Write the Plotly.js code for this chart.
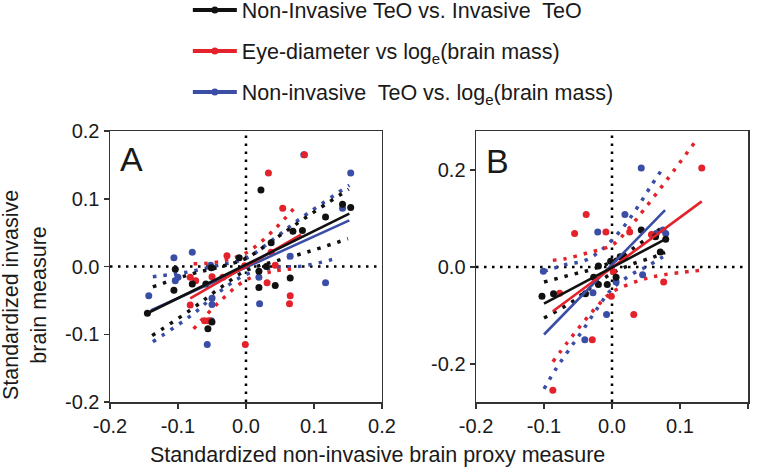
<!DOCTYPE html>
<html>
<head>
<meta charset="utf-8">
<script src="https://cdn.plot.ly/plotly-3.0.1.min.js"></script>
<style>
html, body { margin: 0; padding: 0; background: #fff; }
#myPlot { width: 761px; height: 475px; }
</style>
</head>
<body>
<div id="myPlot"></div>
<script>
// ---- tick labels ----
var tickVals = [-0.2, -0.1, 0, 0.1, 0.2];
var tickText = ["-0.2", "-0.1", "0.0", "0.1", "0.2"];
var bYTickVals = [-0.2, 0, 0.2];
var bYTickText = ["-0.2", "0.0", "0.2"];

var seriesNames = [
    "Non-Invasive TeO vs. Invasive  TeO",
    "Eye-diameter vs log<sub>e</sub>(brain mass)",
    "Non-invasive  TeO vs. log<sub>e</sub>(brain mass)"
];

// ---- panel A points ----
var aBlackX = [0.022, 0.142, 0.154, 0.117, 0.069, 0.083, 0.037, 0.019, 0.019, 0.043, 0.065, -0.104, -0.079, -0.106, -0.059, -0.051, -0.056, -0.050, -0.145, -0.010, 0.030];
var aBlackY = [0.113, 0.092, 0.087, 0.073, 0.052, 0.053, 0.035, -0.007, -0.031, -0.028, -0.017, -0.004, -0.026, -0.035, -0.026, -0.002, -0.092, -0.082, -0.069, 0.013, 0.000];
var aRedX = [0.086, 0.033, 0.054, 0.065, 0.064, -0.001, 0.031, 0.043, 0.037, -0.002, -0.028, -0.034, -0.050, -0.082, -0.074, -0.082, -0.061, -0.055];
var aRedY = [0.165, 0.138, 0.086, -0.043, -0.055, -0.115, -0.024, 0.002, 0.021, 0.001, 0.016, -0.016, -0.015, -0.016, -0.021, -0.057, -0.080, -0.080];
var aBlueX = [0.085, 0.154, 0.142, 0.065, 0.117, 0.020, -0.057, -0.079, -0.106, -0.100, -0.104, -0.143, -0.052, -0.050, -0.050, -0.051, 0.019];
var aBlueY = [0.165, 0.138, 0.086, 0.015, -0.024, -0.055, -0.115, 0.021, 0.013, -0.016, -0.021, -0.043, 0.002, -0.047, -0.056, -0.080, -0.016];

// panel A fitted lines
var aBlackFitX = [-0.145, 0.152], aBlackFitY = [-0.069, 0.078];
var aRedFitX = [-0.082, 0.081], aRedFitY = [-0.047, 0.047];
var aBlueFitX = [-0.140, 0.152], aBlueFitY = [-0.065, 0.068];

// panel A dotted bands
var aBlackUpX = [-0.137, -0.08, -0.04, 0, 0.04, 0.089, 0.151], aBlackUpY = [-0.030, -0.011, -0.001, 0.012, 0.039, 0.073, 0.114];
var aBlackLoX = [-0.138, -0.08, -0.04, 0, 0.04, 0.089, 0.150], aBlackLoY = [-0.102, -0.063, -0.033, -0.006, 0.007, 0.021, 0.041];
var aRedUpX = [-0.077, -0.04, 0, 0.04, 0.075], aRedUpY = [0.004, 0.007, 0.020, 0.053, 0.091];
var aRedLoX = [-0.077, -0.04, 0, 0.04, 0.075], aRedLoY = [-0.092, -0.053, -0.020, -0.007, -0.003];
var aBlueUpX = [-0.137, -0.09, -0.04, 0, 0.04, 0.0775, 0.152], aBlueUpY = [-0.015, -0.009, 0.002, 0.012, 0.040, 0.069, 0.120];
var aBlueLoX = [-0.137, -0.079, -0.04, 0, 0.04, 0.085, 0.137], aBlueLoY = [-0.111, -0.071, -0.038, -0.012, -0.002, 0.001, 0.013];

// ---- panel B points ----
var bBlackX = [-0.103, -0.086, -0.039, -0.020, -0.007, -0.020, 0.012, 0.018, 0.006, 0.043, 0.064, 0.079, 0.071, -0.002, -0.027];
var bBlackY = [-0.060, -0.055, -0.055, 0.002, -0.036, -0.036, 0.021, 0.021, -0.021, 0.076, 0.062, 0.057, 0.031, 0.012, -0.021];
var bRedX = [-0.038, -0.055, -0.009, 0.132, 0.076, 0.032, -0.029, -0.087, -0.077, -0.001, 0.026, 0.002, 0.058];
var bRedY = [0.108, 0.069, 0.072, 0.204, -0.031, -0.098, -0.150, -0.254, -0.054, -0.060, 0.072, -0.010, 0.067];
var bBlueX = [0.043, 0.019, -0.021, 0.075, 0.079, 0.065, -0.008, -0.040, -0.028, 0.006, -0.101, 0.045];
var bBlueY = [0.204, 0.108, 0.072, 0.076, 0.069, 0.069, -0.098, -0.150, -0.053, -0.031, -0.009, -0.016];

// panel B fitted lines
var bBlackFitX = [-0.100, 0.078], bBlackFitY = [-0.0756, 0.057];
var bRedFitX = [-0.087, 0.132], bRedFitY = [-0.091, 0.135];
var bBlueFitX = [-0.100, 0.078], bBlueFitY = [-0.139, 0.117];

// panel B dotted bands
var bBlackUpX = [-0.100, -0.06, -0.03, 0, 0.03, 0.06, 0.078], bBlackUpY = [-0.031, -0.016, -0.005, 0.011, 0.037, 0.068, 0.085];
var bBlackLoX = [-0.100, -0.06, -0.03, 0, 0.03, 0.06, 0.078], bBlackLoY = [-0.105, -0.073, -0.041, -0.013, 0.006, 0.020, 0.030];
var bRedUpX = [-0.087, -0.069, -0.036, 0, 0.025, 0.048, 0.081, 0.124], bRedUpY = [0.014, 0.017, 0.029, 0.045, 0.080, 0.120, 0.180, 0.261];
var bRedLoX = [-0.087, -0.066, -0.044, -0.022, 0, 0.042, 0.076, 0.130], bRedLoY = [-0.195, -0.156, -0.117, -0.081, -0.052, -0.027, -0.016, -0.007];
var bBlueUpX = [-0.100, -0.07, -0.037, -0.009, 0.016, 0.037, 0.056, 0.076], bBlueUpY = [-0.009, 0.004, 0.015, 0.043, 0.081, 0.122, 0.164, 0.206];
var bBlueLoX = [-0.100, -0.083, -0.063, -0.042, -0.021, 0, 0.028, 0.050, 0.075], bBlueLoY = [-0.251, -0.211, -0.170, -0.128, -0.084, -0.045, -0.016, 0.000, 0.021];

var BLACK = "#111111", RED = "#e3222b", BLUE = "#3b4ea6";

function points(xs, ys, color, xa, ya) {
    return { x: xs, y: ys, xaxis: xa, yaxis: ya, mode: "markers", type: "scatter",
        marker: { color: color, size: 7 }, showlegend: false, hoverinfo: "skip" };
}

function fit(xs, ys, color, xa, ya) {
    return { x: xs, y: ys, xaxis: xa, yaxis: ya, mode: "lines", type: "scatter",
        line: { color: color, width: 2.6 }, showlegend: false, hoverinfo: "skip" };
}

function band(xs, ys, color, xa, ya) {
    return { x: xs, y: ys, xaxis: xa, yaxis: ya, mode: "lines", type: "scatter",
        line: { color: color, width: 3.5, dash: "3.5px,7px", shape: "spline" }, showlegend: false, hoverinfo: "skip" };
}

function legendEntry(name, color, group) {
    return { x: [null], y: [null], mode: "lines+markers", type: "scatter", name: name,
        legendgroup: group, line: { color: color, width: 4 }, marker: { color: color, size: 7 } };
}

function zeroLines(xr, yr) {
    var dl = { color: "#000", width: 2.5, dash: "2.5px,5.5px" };
    return [
        { type: "line", xref: xr, yref: yr + " domain", x0: 0, x1: 0, y0: 0, y1: 1, line: dl, layer: "below" },
        { type: "line", xref: xr + " domain", yref: yr, x0: 0, x1: 1, y0: 0, y1: 0, line: dl, layer: "below" }
    ];
}

function axisStyle(extra) {
    var base = {
        showgrid: false, zeroline: false, showline: true, mirror: true,
        linecolor: "#333", linewidth: 1.5, ticks: "outside", ticklen: 5,
        tickwidth: 1.5, tickcolor: "#333", tickfont: { size: 20 }, fixedrange: true,
        automargin: false
    };
    for (var k in extra) base[k] = extra[k];
    return base;
}

function draw_chart() {
    // Define Data
    var data = [
        band(aBlueUpX, aBlueUpY, BLUE, "x", "y"), band(aBlueLoX, aBlueLoY, BLUE, "x", "y"),
        band(aRedUpX, aRedUpY, RED, "x", "y"), band(aRedLoX, aRedLoY, RED, "x", "y"),
        band(aBlackUpX, aBlackUpY, BLACK, "x", "y"), band(aBlackLoX, aBlackLoY, BLACK, "x", "y"),
        points(aBlueX, aBlueY, BLUE, "x", "y"), points(aRedX, aRedY, RED, "x", "y"), points(aBlackX, aBlackY, BLACK, "x", "y"),
        fit(aBlueFitX, aBlueFitY, BLUE, "x", "y"), fit(aRedFitX, aRedFitY, RED, "x", "y"), fit(aBlackFitX, aBlackFitY, BLACK, "x", "y"),

        band(bBlueUpX, bBlueUpY, BLUE, "x2", "y2"), band(bBlueLoX, bBlueLoY, BLUE, "x2", "y2"),
        band(bRedUpX, bRedUpY, RED, "x2", "y2"), band(bRedLoX, bRedLoY, RED, "x2", "y2"),
        band(bBlackUpX, bBlackUpY, BLACK, "x2", "y2"), band(bBlackLoX, bBlackLoY, BLACK, "x2", "y2"),
        points(bBlueX, bBlueY, BLUE, "x2", "y2"), points(bRedX, bRedY, RED, "x2", "y2"), points(bBlackX, bBlackY, BLACK, "x2", "y2"),
        fit(bBlueFitX, bBlueFitY, BLUE, "x2", "y2"), fit(bRedFitX, bRedFitY, RED, "x2", "y2"), fit(bBlackFitX, bBlackFitY, BLACK, "x2", "y2"),

        legendEntry(seriesNames[0], BLACK, "g1"),
        legendEntry(seriesNames[1], RED, "g2"),
        legendEntry(seriesNames[2], BLUE, "g3")
    ];

    // Define Layout
    var layout = {
        width: 761, height: 475,
        margin: { l: 110, r: 13, t: 131, b: 73, autoexpand: false },
        paper_bgcolor: "#fff", plot_bgcolor: "#fff",
        font: { family: "Liberation Sans, Arial, sans-serif", color: "#1a1a1a" },
        showlegend: true,
        legend: {
            x: 0.122, y: 1.522, xanchor: "left", yanchor: "top",
            font: { size: 21.5 }, tracegroupgap: 10, traceorder: "grouped",
            itemwidth: 44, bgcolor: "rgba(0,0,0,0)"
        },
        xaxis: axisStyle({ domain: [0, 0.4263], range: [-0.2, 0.2], anchor: "y", tickvals: tickVals, ticktext: tickText }),
        yaxis: axisStyle({ domain: [0, 1], range: [-0.2, 0.2], anchor: "x", tickvals: tickVals, ticktext: tickText }),
        xaxis2: axisStyle({ domain: [0.5737, 1], range: [-0.2, 0.2], anchor: "y2", tickvals: tickVals, ticktext: tickText }),
        yaxis2: axisStyle({ domain: [0, 1], range: [-0.278, 0.28], anchor: "x2", tickvals: bYTickVals, ticktext: bYTickText }),
        shapes: zeroLines("x", "y").concat(zeroLines("x2", "y2")),
        annotations: [
            { text: "A", xref: "paper", yref: "paper", x: 0.033, y: 0.897, showarrow: false, font: { size: 34 }, xanchor: "center", yanchor: "middle" },
            { text: "B", xref: "paper", yref: "paper", x: 0.6066, y: 0.889, showarrow: false, font: { size: 34 }, xanchor: "center", yanchor: "middle" },
            { text: "Standardized non-invasive brain proxy measure", xref: "paper", yref: "paper", x: 0.42, y: -0.196,
              showarrow: false, font: { size: 21.5 }, xanchor: "center", yanchor: "middle" },
            { text: "Standardized invasive<br>brain measure", xref: "paper", yref: "paper", x: -0.133, y: 0.395,
              showarrow: false, font: { size: 21.5 }, textangle: -90, xanchor: "center", yanchor: "middle" }
        ]
    };

    // Display using Plotly
    Plotly.newPlot("myPlot", data, layout, { displayModeBar: false, staticPlot: true });
}

draw_chart();
</script>
</body>
</html>
